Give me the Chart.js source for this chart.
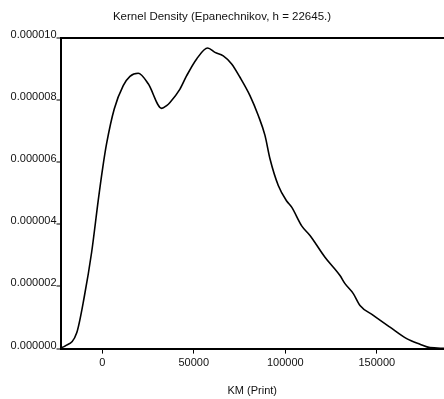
<!DOCTYPE html>
<html>
<head>
<meta charset="utf-8">
<script src="https://cdn.jsdelivr.net/npm/chart.js@4/dist/chart.umd.min.js"></script>
<style>
  body { margin: 0; background: #fff; }
</style>
</head>
<body>
<canvas id="kde-chart" width="444" height="399"></canvas>
<script>
// density estimate (x in KM, y in density units)
var kmX = [-23110, -20380, -13990, -9835, -5790, -2185, 220, 2400, 6560, 11470, 15140, 19670,
    25130, 32460, 35190, 37000, 42460, 46120, 51580, 57590, 61580, 66110, 70700, 75240,
    80700, 85240, 88900, 91630, 96170, 100750, 103490, 108950, 113490, 121680, 129880,
    132610, 137150, 140800, 148070, 157200, 166320, 173590, 179050, 186700];
var density = [0.02, 0.08, 0.50, 1.66, 3.10, 4.77, 5.80, 6.60, 7.71, 8.46, 8.76, 8.86,
    8.52, 7.73, 7.82, 7.92, 8.35, 8.78, 9.32, 9.67, 9.53, 9.42, 9.16, 8.73,
    8.14, 7.50, 6.86, 6.11, 5.25, 4.75, 4.55, 3.95, 3.64, 2.94, 2.35,
    2.09, 1.77, 1.39, 1.07, 0.69, 0.32, 0.14, 0.03, 0.01].map(function (v) { return v * 1e-6; });

var xTicks = [0, 50000, 100000, 150000];
var yTicks = [0, 0.000002, 0.000004, 0.000006, 0.000008, 0.00001];

var points = kmX.map(function (x, i) { return { x: x, y: density[i] }; });

var fontFam = '"Liberation Sans", Arial, Helvetica, sans-serif';

var ctx = document.getElementById("kde-chart");

var myChart = new Chart(ctx, {
    type: 'line',
    data: {
        datasets: [{
            label: 'Kernel Density',
            data: points,
            borderColor: '#000',
            borderWidth: 1.6,
            pointRadius: 0,
            fill: false,
            cubicInterpolationMode: 'monotone'
        }]
    },
    options: {
        responsive: false,
        animation: false,
        layout: { padding: { left: 0, right: 0, top: 0, bottom: 0 } },
        plugins: {
            legend: { display: false },
            tooltip: { enabled: false },
            title: {
                display: true,
                text: 'Kernel Density (Epanechnikov, h = 22645.)',
                color: '#111',
                font: { family: fontFam, size: 11.5, weight: 'normal' },
                padding: { top: 10, bottom: 14 }
            }
        },
        scales: {
            x: {
                type: 'linear',
                min: -22800,
                max: 186700,
                afterBuildTicks: function (scale) {
                    scale.ticks = xTicks.map(function (v) { return { value: v }; });
                },
                border: { display: true, color: '#000', width: 2 },
                grid: { drawOnChartArea: false, drawTicks: true, tickLength: 5, tickColor: '#000', tickWidth: 1 },
                ticks: {
                    color: '#111',
                    padding: 3,
                    maxRotation: 0,
                    font: { family: fontFam, size: 11 },
                    callback: function (v) { return String(v); }
                },
                title: {
                    display: true,
                    text: 'KM (Print)',
                    color: '#111',
                    font: { family: fontFam, size: 11 },
                    padding: { top: 12, bottom: 1 }
                }
            },
            y: {
                type: 'linear',
                min: 0,
                max: 0.00001,
                afterBuildTicks: function (scale) {
                    scale.ticks = yTicks.map(function (v) { return { value: v }; });
                },
                afterFit: function (scale) { scale.width = 60.5; },
                border: { display: true, color: '#000', width: 2 },
                grid: {
                    drawOnChartArea: true,
                    drawTicks: true,
                    tickLength: 4,
                    tickColor: '#000',
                    tickWidth: 1,
                    // only the top line of the frame is drawn across the plot
                    color: function (c) { return c.tick && c.tick.value === 0.00001 ? '#000' : 'rgba(0,0,0,0)'; },
                    lineWidth: function (c) { return c.tick && c.tick.value === 0.00001 ? 2 : 0; }
                },
                ticks: {
                    color: '#111',
                    padding: 0,
                    labelOffset: -3,
                    font: { family: fontFam, size: 11 },
                    callback: function (v) { return v.toFixed(6); }
                }
            }
        }
    }
});
</script>
</body>
</html>
